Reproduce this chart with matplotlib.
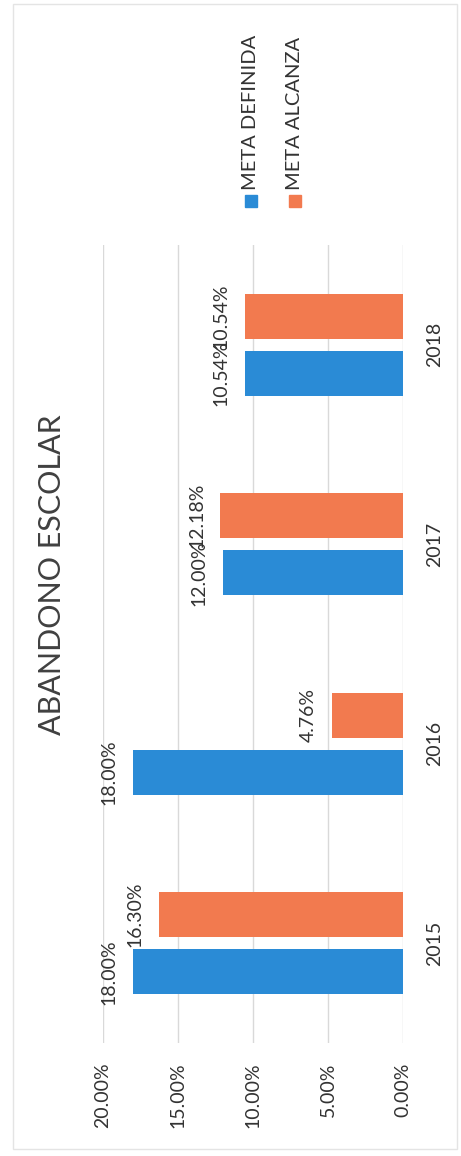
import matplotlib
matplotlib.use("Agg")
import matplotlib.pyplot as plt
from matplotlib.patches import Rectangle
import numpy as np

plt.rcParams['font.family'] = ['Lato', 'DejaVu Sans']

years = ['2015', '2016', '2017', '2018']
meta_definida = [18.00, 18.00, 12.00, 10.54]
meta_alcanzada = [16.30, 4.76, 12.18, 10.54]
series_names = ['META DEFINIDA', 'META ALCANZA']
value_ticks = [0, 5, 10, 15, 20]

blue = '#2a8bd6'
orange = '#f27a4f'
grid_c = '#d9d9d9'
text_c = '#333333'

W, H = 461, 1156
fig = plt.figure(figsize=(W / 100, H / 100), dpi=100)

# page frame of the sheet
fig.patches.append(Rectangle((13 / W, 1 - 1149 / H), 444 / W, 1145 / H,
                             transform=fig.transFigure, fill=False,
                             ec='#e4e4e4', lw=1))

# chart is laid on its side: values grow leftwards, years go upwards
ax = fig.add_axes([103 / W, 1 - 1043 / H, 300 / W, 798 / H])

y = np.arange(len(years))
bh = 0.225
off = 0.143
b1 = ax.barh(y - off, meta_definida, height=bh, color=blue, zorder=3)
b2 = ax.barh(y + off, meta_alcanzada, height=bh, color=orange, zorder=3)

ax.set_xlim(0, 20)
ax.invert_xaxis()
ax.set_ylim(-0.5, len(years) - 0.5)

ax.set_xticks(value_ticks)
ax.set_xticklabels([f"{v:.2f}%" for v in value_ticks])
ax.tick_params(axis='x', length=0, pad=14, labelrotation=90,
               labelsize=14, labelcolor=text_c)
for lbl in ax.get_xticklabels():
    lbl.set_va('top')

ax.yaxis.tick_right()
ax.set_yticks(y)
ax.set_yticklabels(years)
ax.tick_params(axis='y', length=0, pad=17, labelrotation=90,
               labelsize=14, labelcolor=text_c)
for lbl in ax.get_yticklabels():
    lbl.set_va('center')

ax.grid(axis='x', color=grid_c, lw=1, zorder=0)
for s in ax.spines.values():
    s.set_visible(False)

# value labels just past the end of each bar
for bars, vals in ((b1, meta_definida), (b2, meta_alcanzada)):
    for rect, v in zip(bars, vals):
        ax.annotate(f"{v:.2f}%", (v, rect.get_y() + rect.get_height() / 2),
                    xytext=(-17, 0), textcoords='offset points',
                    rotation=90, ha='center', va='center',
                    fontsize=14, color=text_c, zorder=4)

fig.text(52 / W, 1 - 575 / H, 'ABANDONO ESCOLAR', rotation=90,
         ha='center', va='center', fontsize=22, color='#404040')

# legend, rotated with the chart
for xc, name, col in ((251, series_names[0], blue), (295, series_names[1], orange)):
    fig.patches.append(Rectangle(((xc - 6) / W, 1 - 207 / H), 12 / W, 12 / H,
                                 transform=fig.transFigure, color=col))
    fig.text(xc / W, 1 - 190 / H, name, rotation=90, ha='center', va='bottom',
             fontsize=14.5, color=text_c)

fig.savefig('out.png', dpi=100)
